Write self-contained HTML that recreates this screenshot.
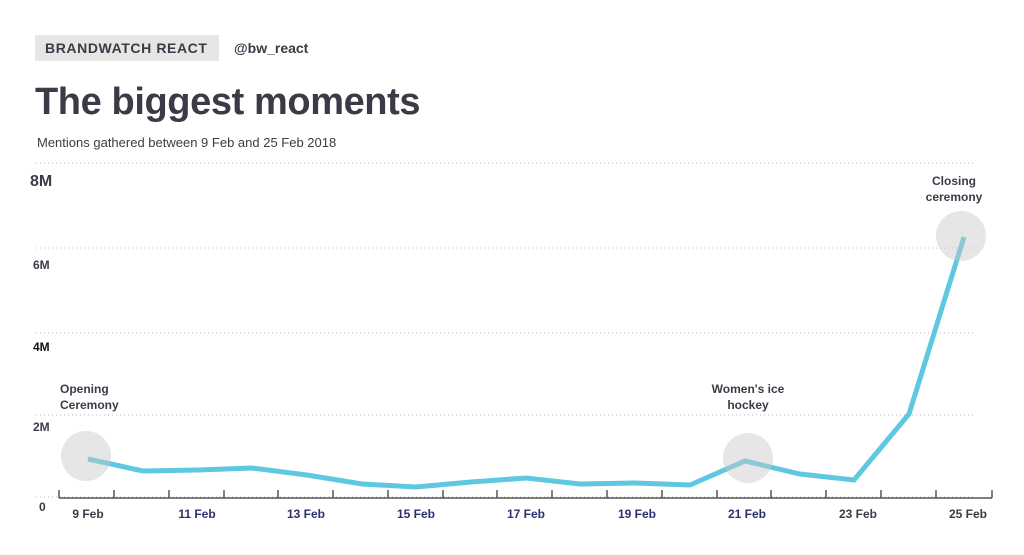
<!DOCTYPE html>
<html><head><meta charset="utf-8"><style>
body{margin:0;background:#fff;width:1024px;height:550px;overflow:hidden;font-family:"Liberation Sans",sans-serif;}
</style></head><body>
<svg width="1024" height="550" xmlns="http://www.w3.org/2000/svg" font-family="Liberation Sans, sans-serif">
<rect x="35" y="35" width="184" height="26" fill="#e6e6e6"/>
<text x="45" y="53" font-size="14" font-weight="bold" fill="#3b3b48" letter-spacing="0.6">BRANDWATCH REACT</text>
<text x="234" y="53" font-size="14" font-weight="bold" fill="#3b3b48">@bw_react</text>
<text x="35" y="114" font-size="38" font-weight="bold" fill="#3b3b48" letter-spacing="-0.4">The biggest moments</text>
<text x="37" y="147" font-size="13" fill="#3b3b48">Mentions gathered between 9 Feb and 25 Feb 2018</text>
<g stroke="#bbb" stroke-dasharray="1,3" stroke-width="1">
<line x1="36" y1="163" x2="975" y2="163"/>
<line x1="36" y1="248" x2="975" y2="248"/>
<line x1="36" y1="333" x2="975" y2="333"/>
<line x1="36" y1="415" x2="975" y2="415"/>
<line x1="36" y1="497" x2="975" y2="497"/>
</g>
<g font-weight="bold" fill="#3b3b48">
<text x="30" y="186" font-size="16">8M</text>
<text x="33" y="269" font-size="12">6M</text>
<text x="33" y="351" font-size="12" fill="#111">4M</text>
<text x="33" y="431" font-size="12">2M</text>
<text x="39" y="511" font-size="12">0</text>
</g>
<line x1="59" y1="498" x2="992" y2="498" stroke="#555" stroke-width="1.5"/>
<g stroke="#555" stroke-width="1.5">
<line x1="59" y1="490" x2="59" y2="498"/><line x1="114" y1="490" x2="114" y2="498"/><line x1="169" y1="490" x2="169" y2="498"/><line x1="224" y1="490" x2="224" y2="498"/><line x1="278" y1="490" x2="278" y2="498"/><line x1="333" y1="490" x2="333" y2="498"/><line x1="388" y1="490" x2="388" y2="498"/><line x1="443" y1="490" x2="443" y2="498"/><line x1="497" y1="490" x2="497" y2="498"/><line x1="552" y1="490" x2="552" y2="498"/><line x1="607" y1="490" x2="607" y2="498"/><line x1="662" y1="490" x2="662" y2="498"/><line x1="717" y1="490" x2="717" y2="498"/><line x1="771" y1="490" x2="771" y2="498"/><line x1="826" y1="490" x2="826" y2="498"/><line x1="881" y1="490" x2="881" y2="498"/><line x1="936" y1="490" x2="936" y2="498"/><line x1="992" y1="490" x2="992" y2="498"/>
</g>
<g font-size="12" font-weight="bold" text-anchor="middle">
<text x="88" y="518" fill="#3b3b48">9 Feb</text>
<text x="197" y="518" fill="#2e2e72">11 Feb</text>
<text x="306" y="518" fill="#2e2e72">13 Feb</text>
<text x="416" y="518" fill="#2e2e72">15 Feb</text>
<text x="526" y="518" fill="#2e2e72">17 Feb</text>
<text x="637" y="518" fill="#2e2e72">19 Feb</text>
<text x="747" y="518" fill="#2e2e72">21 Feb</text>
<text x="858" y="518" fill="#3b3b48">23 Feb</text>
<text x="968" y="518" fill="#3b3b48">25 Feb</text>
</g>
<polyline fill="none" stroke="#5ec8e0" stroke-width="5" stroke-linejoin="miter" points="88,459 143,471 198,470 252,468 307,475 362,484 416,487 471,482 526,478 580,484 635,483 690,485 745,461 800,474 854,480 909,414 964,237"/>
<circle cx="86" cy="456" r="25" fill="#c8c8c8" fill-opacity="0.45"/>
<circle cx="748" cy="458" r="25" fill="#c8c8c8" fill-opacity="0.45"/>
<circle cx="961" cy="236" r="25" fill="#c8c8c8" fill-opacity="0.45"/>
<g font-size="12" font-weight="bold" fill="#3b3b48">
<text x="60" y="393">Opening</text>
<text x="60" y="409">Ceremony</text>
<text x="748" y="393" text-anchor="middle">Women's ice</text>
<text x="748" y="409" text-anchor="middle">hockey</text>
<text x="954" y="185" text-anchor="middle">Closing</text>
<text x="954" y="201" text-anchor="middle">ceremony</text>
</g>
</svg>
</body></html>
